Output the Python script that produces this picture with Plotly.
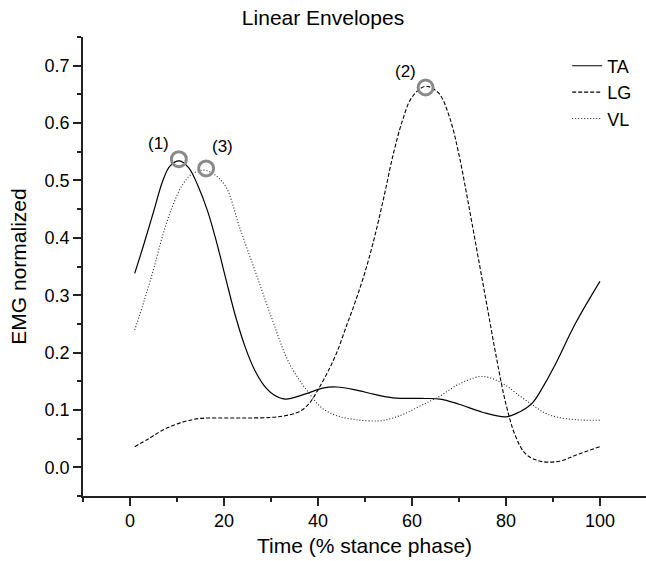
import plotly.graph_objects as go

# ---- data ----
ta_x = [1, 3, 5, 7, 8.5, 10.5, 12.5, 14.5, 16.5, 18.5, 20.5, 22.5, 24.5, 26.5, 28.5, 30.5, 33, 37, 41, 44, 48, 52, 56, 62, 66, 70, 75, 80, 83, 85.6, 88, 90.6, 94.8, 100]
ta_y = [0.338, 0.39, 0.445, 0.50, 0.525, 0.534, 0.522, 0.49, 0.447, 0.39, 0.325, 0.262, 0.21, 0.17, 0.143, 0.127, 0.119, 0.127, 0.138, 0.140, 0.135, 0.127, 0.121, 0.120, 0.119, 0.110, 0.096, 0.088, 0.097, 0.112, 0.142, 0.181, 0.251, 0.324]

lg_x = [1, 4, 7, 10.5, 14.7, 20, 25, 30, 33, 36, 38, 40, 42, 44, 46, 48, 50, 52, 54, 56, 58, 60, 62.9, 65.7, 68, 70, 72, 74, 76, 78, 80, 82, 84, 86.3, 89, 92, 94.8, 100]
lg_y = [0.036, 0.05, 0.065, 0.077, 0.085, 0.086, 0.086, 0.087, 0.090, 0.097, 0.11, 0.135, 0.165, 0.20, 0.245, 0.29, 0.34, 0.40, 0.47, 0.545, 0.605, 0.645, 0.664, 0.652, 0.61, 0.545, 0.46, 0.37, 0.28, 0.19, 0.11, 0.055, 0.025, 0.013, 0.009, 0.012, 0.021, 0.036]

vl_x = [1, 3, 5, 7, 9, 11, 13, 15.8, 18, 20.4, 23.3, 26.8, 30.3, 33.9, 38.1, 40.9, 44, 48, 53, 56, 58.6, 62, 65.7, 70, 74.3, 77, 79.9, 83, 85.6, 88, 90.6, 95, 100]
vl_y = [0.239, 0.29, 0.345, 0.405, 0.454, 0.49, 0.51, 0.518, 0.51, 0.489, 0.419, 0.338, 0.257, 0.181, 0.129, 0.103, 0.09, 0.083, 0.081, 0.086, 0.094, 0.108, 0.123, 0.145, 0.158, 0.155, 0.143, 0.124, 0.109, 0.096, 0.088, 0.083, 0.082]

peak_x = [10.4, 62.9, 16.2]
peak_y = [0.537, 0.662, 0.521]
peak_labels = ["(1)", "(2)", "(3)"]

FONT = "Arial, Liberation Sans, sans-serif"

fig = go.Figure()
fig.add_trace(go.Scatter(x=ta_x, y=ta_y, mode="lines", name="TA", legendgroup="a",
                         line=dict(color="black", width=1.2, shape="spline", smoothing=1.0)))
fig.add_trace(go.Scatter(x=lg_x, y=lg_y, mode="lines", name="LG", legendgroup="b",
                         line=dict(color="black", width=1.1, dash="4px,2px", shape="spline", smoothing=1.0)))
fig.add_trace(go.Scatter(x=vl_x, y=vl_y, mode="lines", name="VL", legendgroup="c",
                         line=dict(color="#222222", width=1.1, dash="1px,2px", shape="spline", smoothing=1.0)))
fig.add_trace(go.Scatter(x=peak_x, y=peak_y, mode="markers", showlegend=False,
                         marker=dict(symbol="circle-open", size=15, color="#8a8a8a",
                                     line=dict(width=3, color="#8a8a8a"))))

shifts = [(-20, 16), (-20, 16), (16, 22)]
for px_, py_, lab, (dx, dy) in zip(peak_x, peak_y, peak_labels, shifts):
    fig.add_annotation(x=px_, y=py_, xref="x", yref="y", text=lab, showarrow=False,
                       xshift=dx, yshift=dy, font=dict(family=FONT, size=17, color="black"))

fig.update_layout(
    width=646, height=561,
    margin=dict(l=83, r=0, t=37, b=65),
    paper_bgcolor="white", plot_bgcolor="white",
    font=dict(family=FONT, color="black"),
    title=dict(text="Linear Envelopes", x=0.5, xref="container", y=1 - 18 / 561, yref="container",
               xanchor="center", yanchor="middle", font=dict(family=FONT, size=21, color="black")),
    showlegend=True,
    legend=dict(x=0.86, y=0.977, xanchor="left", yanchor="top", bgcolor="rgba(0,0,0,0)",
                font=dict(family=FONT, size=18, color="black"), traceorder="grouped",
                tracegroupgap=0, itemwidth=30),
)

fig.update_xaxes(
    range=[-10, 109.8], showline=True, linecolor="#222222", linewidth=1.5,
    ticks="outside", ticklen=8, tickwidth=1.5, tickcolor="#222222",
    tick0=0, dtick=20, showgrid=False, zeroline=False, automargin=False,
    tickfont=dict(family=FONT, size=18, color="black"),
    minor=dict(ticks="outside", ticklen=4, tickwidth=1.5, tickcolor="#222222", dtick=10, tick0=0, showgrid=False),
    title=dict(text="Time (% stance phase)", font=dict(family=FONT, size=21, color="black"), standoff=8),
)
fig.update_yaxes(
    range=[-0.05, 0.75], showline=True, linecolor="#222222", linewidth=1.5,
    ticks="outside", ticklen=8, tickwidth=1.5, tickcolor="#222222",
    tick0=0, dtick=0.1, tickformat=".1f", showgrid=False, zeroline=False, automargin=False,
    tickfont=dict(family=FONT, size=18, color="black"),
    minor=dict(ticks="outside", ticklen=4, tickwidth=1.5, tickcolor="#222222", dtick=0.05, tick0=0, showgrid=False),
    title=dict(text="EMG normalized", font=dict(family=FONT, size=21, color="black"), standoff=12),
)

fig.write_html("out.html", config={"displayModeBar": False},
               post_script="document.body.style.margin='0';document.body.style.overflow='hidden';")
